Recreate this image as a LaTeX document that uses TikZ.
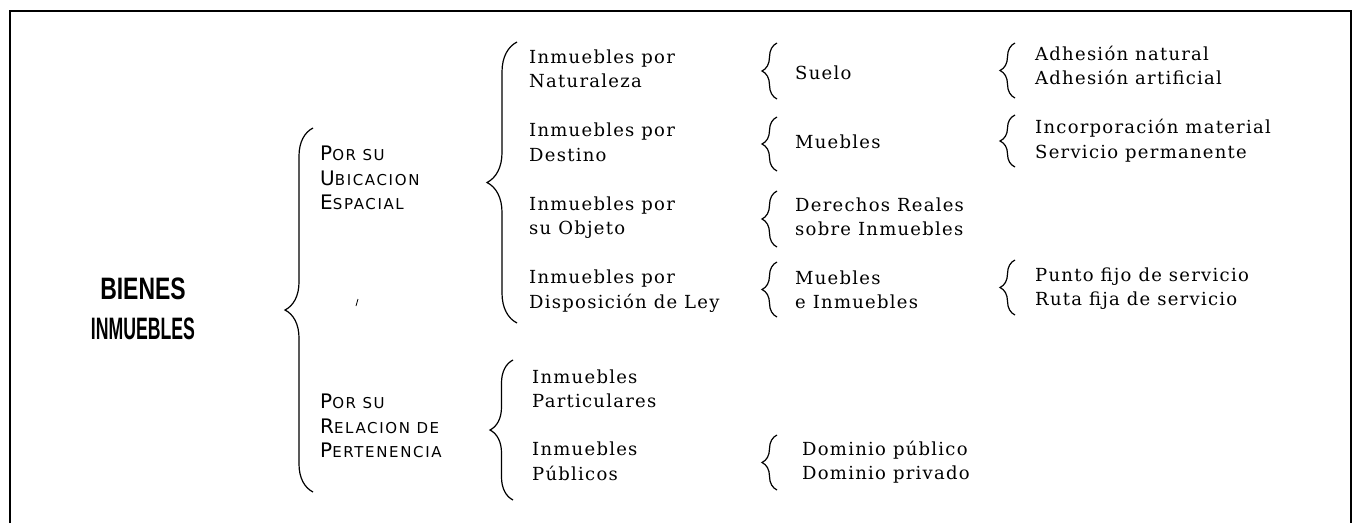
\documentclass[tikz,border=0pt]{standalone}
\usepackage{fontspec}
\usepackage{graphicx}
\setmainfont{DejaVu Serif}[LetterSpace=7]
\newfontfamily\capsfont[LetterSpace=11]{DejaVu Sans}
\newfontfamily\titlefont{Liberation Sans}
\usetikzlibrary{decorations.pathreplacing}

\newcommand\pcap[2]{{\capsfont\fontsize{20}{25}\selectfont #1\fontsize{15}{25}\selectfont #2}}

\begin{document}
\begin{tikzpicture}[x=1pt,y=-1pt,
  every node/.style={inner sep=0pt,anchor=west,align=left,font=\fontsize{18}{24.5}\selectfont},
  brc/.style={decorate,decoration={brace,amplitude=#1},line width=1.2pt},
  brc/.default=15]
  \useasboundingbox (0,0) rectangle (1359,523);

  % frame, open at the bottom
  \draw[line width=1.6pt] (10,523) -- (10,11) -- (1351,11) -- (1351,523);

  \node[anchor=center,align=center,font=\titlefont\bfseries\fontsize{31}{40}\selectfont] (bi) at (143,309)
    {\scalebox{0.74}[1]{BIENES}\\\scalebox{0.57}[1]{INMUEBLES}};

  \node (ub) at (320,178) {\pcap{P}{OR SU}\\\pcap{U}{BICACION}\\\pcap{E}{SPACIAL}};
  \node (pe) at (320,426) {\pcap{P}{OR SU}\\\pcap{R}{ELACION DE}\\\pcap{P}{ERTENENCIA}};

  \node (nat) at (529,69)    {Inmuebles por\\Naturaleza};
  \node (des) at (529,142.5) {Inmuebles por\\Destino};
  \node (obj) at (529,217.5) {Inmuebles por\\su Objeto};
  \node (ley) at (529,291)   {Inmuebles por\\Disposición de Ley};
  \node (par) at (532,389)   {Inmuebles\\Particulares};
  \node (pub) at (532,461.5) {Inmuebles\\Públicos};

  \node (sue) at (795,73)    {Suelo};
  \node (mue) at (795,142)   {Muebles};
  \node (der) at (795,217)   {Derechos Reales\\sobre Inmuebles};
  \node (mei) at (795,290)   {Muebles\\e Inmuebles};
  \node (dom) at (802,462)   {Dominio público\\Dominio privado};

  \node (adh) at (1035,65.5)  {Adhesión natural\\Adhesión artificial};
  \node (inc) at (1035,140.5) {Incorporación material\\Servicio permanente};
  \node (pun) at (1035,288.5) {Punto fijo de servicio\\Ruta fija de servicio};

  % brace ends
  \coordinate (bi1) at (313,128);  \coordinate (bi2) at (313,492);
  \coordinate (ub1) at (517,42);   \coordinate (ub2) at (517,323);
  \coordinate (pe1) at (513,360);  \coordinate (pe2) at (513,500);
  \coordinate (nat1) at (777,43);  \coordinate (nat2) at (777,99);
  \coordinate (des1) at (777,117); \coordinate (des2) at (777,171);
  \coordinate (obj1) at (777,191); \coordinate (obj2) at (777,247);
  \coordinate (ley1) at (777,262); \coordinate (ley2) at (777,317);
  \coordinate (pub1) at (777,435); \coordinate (pub2) at (777,490);
  \coordinate (sue1) at (1015,43);  \coordinate (sue2) at (1015,98);
  \coordinate (mue1) at (1015,115); \coordinate (mue2) at (1015,167);
  \coordinate (mei1) at (1015,260); \coordinate (mei2) at (1015,315);

  \draw[brc=28] (bi2) -- (bi1);
  \draw[brc=30] (ub2) -- (ub1);
  \draw[brc=23] (pe2) -- (pe1);
  \draw[brc] (nat2) -- (nat1);
  \draw[brc] (des2) -- (des1);
  \draw[brc] (obj2) -- (obj1);
  \draw[brc] (ley2) -- (ley1);
  \draw[brc] (pub2) -- (pub1);
  \draw[brc] (sue2) -- (sue1);
  \draw[brc] (mue2) -- (mue1);
  \draw[brc] (mei2) -- (mei1);

  % speck
  \draw[line width=0.8pt] (358,299) -- (356,306);
\end{tikzpicture}
\end{document}
